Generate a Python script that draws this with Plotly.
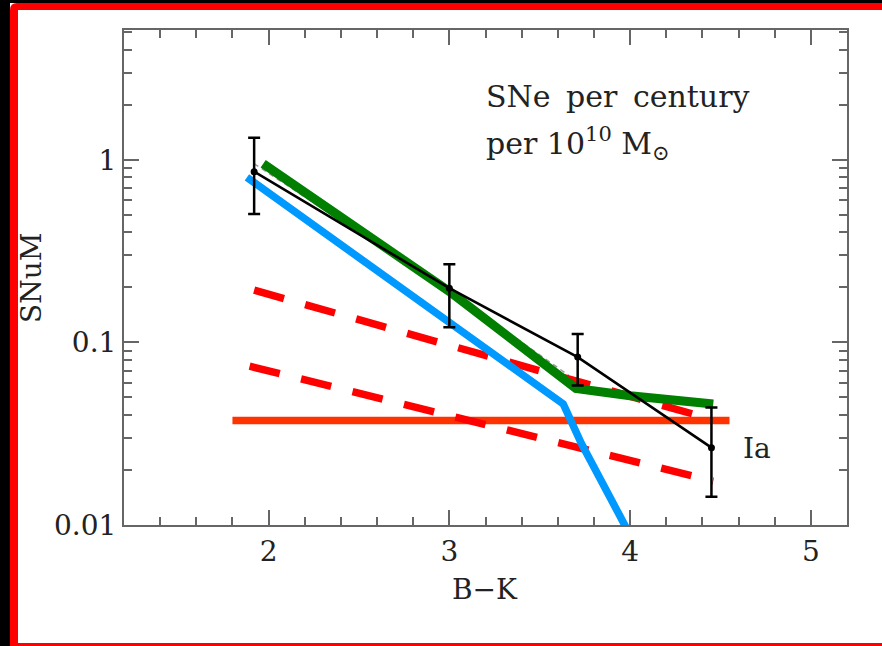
import plotly.graph_objects as go

# ---------------- data ----------------
bk_obs = [1.92, 3.0, 3.71, 4.45]
snum_obs = [0.86, 0.198, 0.083, 0.0265]
snum_obs_hi = [1.32, 0.268, 0.111, 0.044]
snum_obs_lo = [0.505, 0.121, 0.058, 0.0143]

bk_grey = [1.92, 3.0, 3.66]
snum_grey = [0.95, 0.19, 0.066]

bk_green = [1.97, 3.0, 3.7, 4.0, 4.46]
snum_green = [0.95, 0.19, 0.056, 0.051, 0.046]

bk_blue = [1.88, 3.0, 3.63, 3.73, 3.84, 4.0]
snum_blue = [0.80, 0.13, 0.046, 0.028, 0.0172, 0.0088]

bk_flat = [1.80, 4.55]
snum_flat = [0.0373, 0.0373]

bk_dash_up = [1.92, 4.46]
snum_dash_up = [0.193, 0.0377]

bk_dash_lo = [1.895, 4.46]
snum_dash_lo = [0.074, 0.0174]

x_ticks = [2, 3, 4, 5]
y_ticks = [0.01, 0.1, 1]
y_ticktext = ["0.01", "0.1", "1"]
y_minor = [k * 10 ** e for e in (-2, -1, 0) for k in range(2, 10) if k * 10 ** e < 5.2]

# ---------------- layout helpers ----------------
W, H = 882, 646
L, R, T, B = 124, 847, 30, 525


def px(xp):
    return (xp - L) / (R - L)


def py(yp):
    return (B - yp) / (B - T)


FONT = "DejaVu Serif"
TXT = "#222222"

fig = go.Figure()

fig.add_trace(go.Scatter(x=bk_grey, y=snum_grey, mode="lines",
                         line=dict(color="#999999", width=1.5, dash="5px,4px"),
                         showlegend=False))
fig.add_trace(go.Scatter(x=bk_flat, y=snum_flat, mode="lines",
                         line=dict(color="#FF3300", width=7.5), showlegend=False))
fig.add_trace(go.Scatter(x=bk_dash_up, y=snum_dash_up, mode="lines",
                         line=dict(color="#FF0000", width=7.5, dash="31px,22px"),
                         showlegend=False))
fig.add_trace(go.Scatter(x=bk_dash_lo, y=snum_dash_lo, mode="lines",
                         line=dict(color="#FF0000", width=7.5, dash="31px,22px"),
                         showlegend=False))
fig.add_trace(go.Scatter(x=bk_blue, y=snum_blue, mode="lines",
                         line=dict(color="#0099FF", width=7.5), showlegend=False))
fig.add_trace(go.Scatter(x=bk_green, y=snum_green, mode="lines",
                         line=dict(color="#007F00", width=9), showlegend=False))
fig.add_trace(go.Scatter(
    x=bk_obs, y=snum_obs, mode="lines+markers",
    line=dict(color="black", width=2.6),
    marker=dict(color="black", size=7),
    error_y=dict(type="data", symmetric=False,
                 array=[h - v for h, v in zip(snum_obs_hi, snum_obs)],
                 arrayminus=[v - l for l, v in zip(snum_obs_lo, snum_obs)],
                 color="black", thickness=2.5, width=6),
    showlegend=False))

axis_common = dict(showline=True, linecolor="#666666", linewidth=2, mirror="ticks",
                   ticks="inside", tickcolor="#666666", tickwidth=2, ticklen=15,
                   showgrid=False, zeroline=False,
                   tickfont=dict(family=FONT, size=28, color=TXT))

fig.update_xaxes(range=[1.2, 5.2], tickmode="array", tickvals=x_ticks,
                 minor=dict(ticks="inside", ticklen=8, tickcolor="#666666", tickwidth=2,
                            dtick=0.2, tick0=0, showgrid=False),
                 **axis_common)
fig.update_yaxes(type="log", range=[-2, 0.71], tickmode="array", tickvals=y_ticks,
                 ticktext=y_ticktext,
                 minor=dict(ticks="inside", ticklen=8, tickcolor="#666666", tickwidth=2,
                            tickmode="array", tickvals=y_minor, showgrid=False),
                 **axis_common)


def rect(x0, y0, x1, y1, color):
    return dict(type="rect", xref="paper", yref="paper", layer="below",
                x0=px(x0), x1=px(x1), y0=py(y1), y1=py(y0),
                fillcolor=color, line=dict(width=0))


shapes = [
    rect(-5, -5, 10, 660, "black"),          # black left strip
    rect(-5, -5, 890, 3, "black"),           # black top strip
    # red left strip with rounded top-left corner
    dict(type="path", xref="paper", yref="paper", layer="below",
         path=(f"M {px(10)},{py(646)} L {px(10)},{py(10)} "
               f"Q {px(10)},{py(3)} {px(17)},{py(3)} "
               f"L {px(18)},{py(3)} L {px(18)},{py(646)} Z"),
         fillcolor="#FF0000", line=dict(width=0)),
    rect(17, 3, 890, 10, "#FF0000"),         # red top strip
    rect(18, 643, 890, 660, "#FF0000"),      # red bottom strip
]

annotations = [
    dict(text="SNe\u2009 per\u2009 century", x=px(484), y=py(97), xref="paper", yref="paper",
         xanchor="left", yanchor="middle", showarrow=False,
         font=dict(family=FONT, size=30, color=TXT)),
    dict(text="per 10<sup>10</sup> M<sub>⊙</sub>", x=px(484), y=py(143),
         xref="paper", yref="paper", xanchor="left", yanchor="middle", showarrow=False,
         font=dict(family=FONT, size=30, color=TXT)),
    dict(text="Ia", x=px(741), y=py(448), xref="paper", yref="paper",
         xanchor="left", yanchor="middle", showarrow=False,
         font=dict(family=FONT, size=28, color=TXT)),
    dict(text="B−K", x=px(485), y=py(589), xref="paper", yref="paper",
         xanchor="center", yanchor="middle", showarrow=False,
         font=dict(family=FONT, size=28, color=TXT)),
    dict(text="SNuM", x=px(31), y=py(278), xref="paper", yref="paper",
         xanchor="center", yanchor="middle", showarrow=False, textangle=-90,
         font=dict(family=FONT, size=28, color=TXT)),
]

fig.update_layout(
    width=W, height=H,
    margin=dict(l=L, r=W - R, t=T, b=H - B),
    paper_bgcolor="white", plot_bgcolor="white",
    shapes=shapes, annotations=annotations,
    showlegend=False,
)

fig.write_html("out.html")
